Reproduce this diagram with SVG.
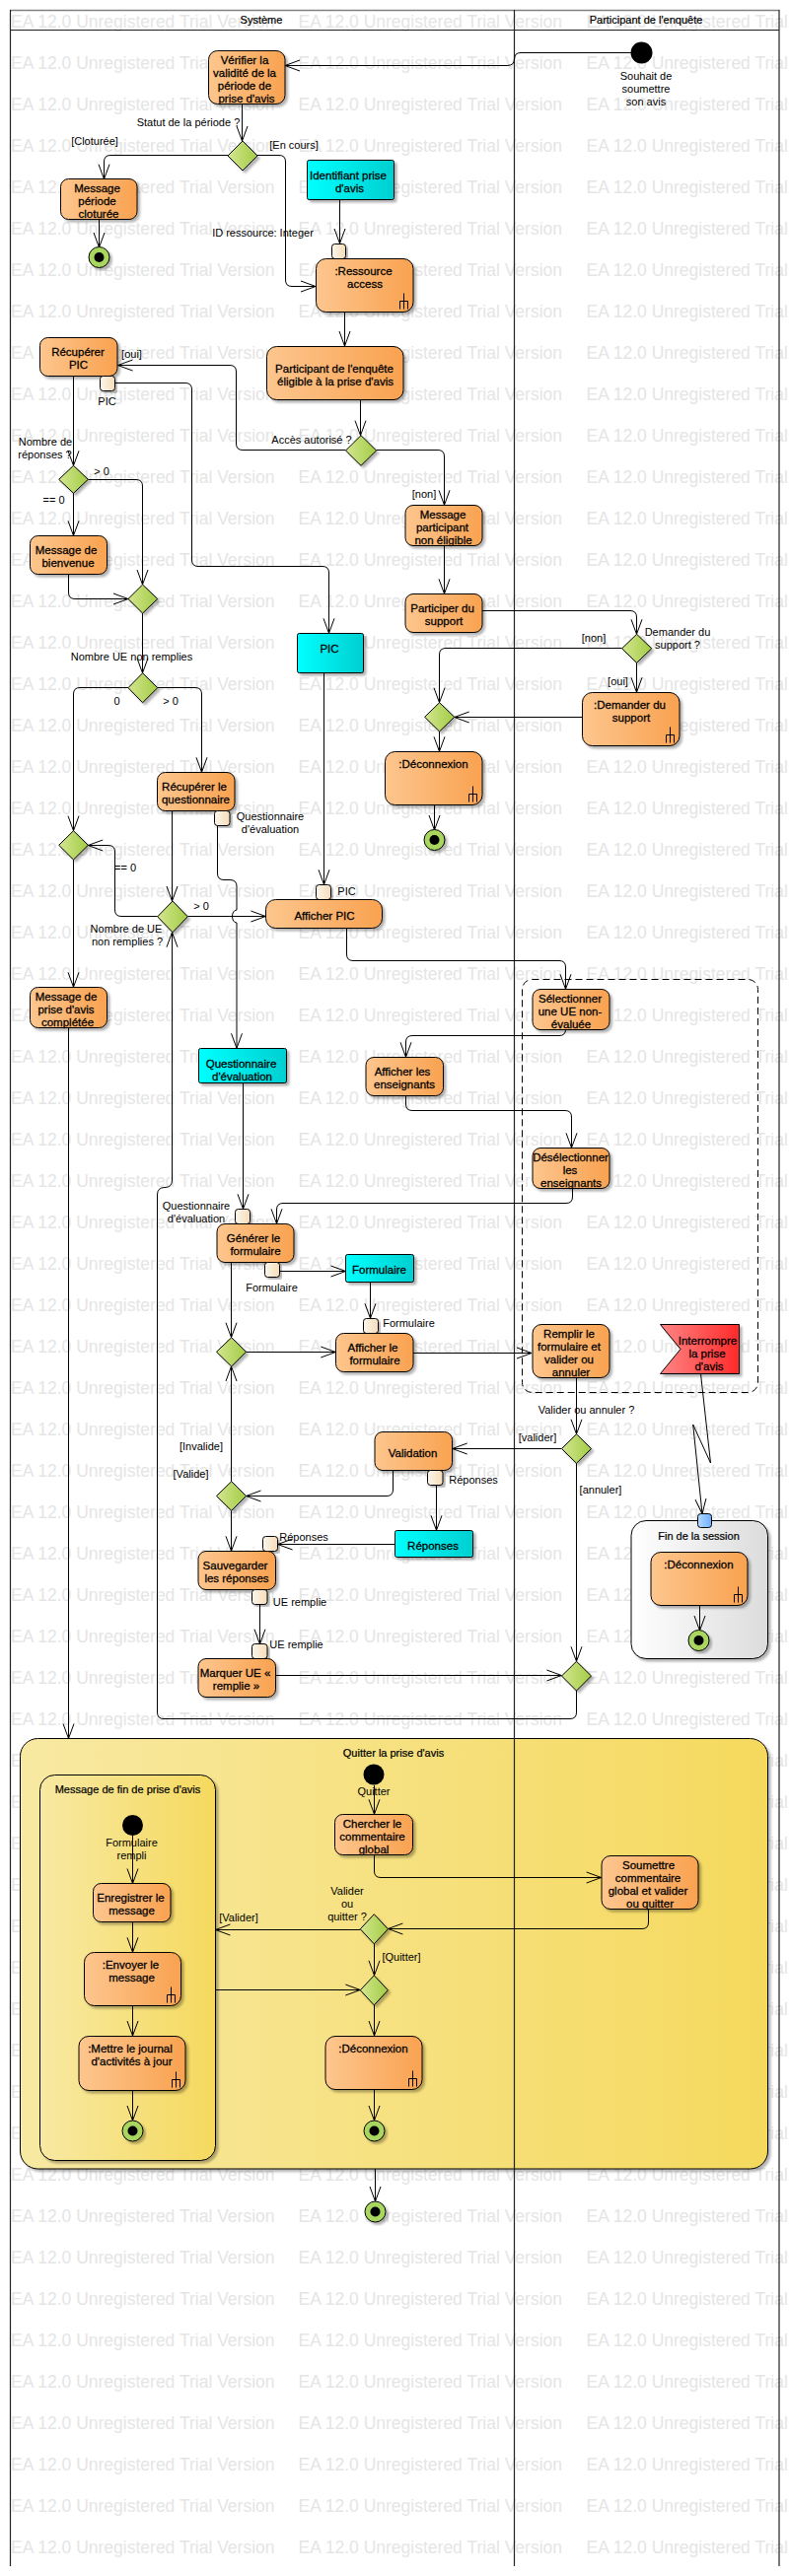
<svg xmlns="http://www.w3.org/2000/svg" xmlns:xlink="http://www.w3.org/1999/xlink" width="800" height="2613" viewBox="0 0 800 2613">
<style>
text{font-family:"Liberation Sans",Arial,sans-serif;fill:#000}
.n{font-size:11.5px;stroke:#000;stroke-width:.28px;text-anchor:middle}
.l{font-size:11px;text-anchor:middle}
.h{font-size:11px;stroke:#000;stroke-width:.22px;text-anchor:middle}
.w{font-size:17.5px;fill:#e5e5e5}
.c{fill:none;stroke:#000;stroke-width:1}
.a{marker-end:url(#ah)}
.act{fill:url(#org);stroke:#000;stroke-width:1;filter:url(#sh)}
.obj{fill:url(#cya);stroke:#000;stroke-width:1;filter:url(#sh)}
.dec{fill:url(#grn);stroke:#000;stroke-width:1;filter:url(#sh)}
.pin{fill:url(#pin);stroke:#000;stroke-width:1;filter:url(#sh)}
.fin{fill:#a9d65f;stroke:#000;stroke-width:1;filter:url(#sh)}
.lane{fill:none;stroke:#222;stroke-width:1.2}
.rake{fill:none;stroke:#000;stroke-width:1}
</style>
<defs>
<linearGradient id="org"><stop offset="0" stop-color="#fdc68e"/><stop offset="1" stop-color="#f9a250"/></linearGradient>
<linearGradient id="cya"><stop offset="0" stop-color="#00ffff"/><stop offset="1" stop-color="#00cfd0"/></linearGradient>
<linearGradient id="grn"><stop offset="0" stop-color="#d3e68f"/><stop offset="1" stop-color="#a3cc45"/></linearGradient>
<linearGradient id="pin"><stop offset="0" stop-color="#fbf6ec"/><stop offset="1" stop-color="#f6dcb8"/></linearGradient>
<linearGradient id="red"><stop offset="0" stop-color="#ff8585"/><stop offset="1" stop-color="#ff2a2a"/></linearGradient>
<linearGradient id="blu"><stop offset="0" stop-color="#b5d8ff"/><stop offset="1" stop-color="#6cb0ff"/></linearGradient>
<linearGradient id="gry"><stop offset="0" stop-color="#ffffff"/><stop offset="1" stop-color="#dcdcdc"/></linearGradient>
<linearGradient id="yel"><stop offset="0" stop-color="#f8e9a2"/><stop offset="1" stop-color="#f5d95e"/></linearGradient>
<filter id="sh" x="-15%" y="-15%" width="130%" height="130%"><feDropShadow dx="2.5" dy="2.5" stdDeviation="1" flood-color="#000" flood-opacity="0.3"/></filter>
<marker id="ah" markerUnits="userSpaceOnUse" markerWidth="18" markerHeight="14" refX="15" refY="7" orient="auto" overflow="visible"><path d="M0,1.5 L15,7 L0,12.5" fill="none" stroke="#000"/></marker>
<path id="rake" class="rake" d="M0,0V16M-4,16V8H4V16"/>
<g id="wmrow"><text class="w" x="11" y="28">EA 12.0 Unregistered Trial Version</text><text class="w" x="302.5" y="28">EA 12.0 Unregistered Trial Version</text><text class="w" x="594.5" y="28">EA 12.0 Unregistered Trial Version</text></g>
</defs>
<rect width="800" height="2613" fill="#fff"/>
<g id="watermark">
<use href="#wmrow" y="0"/><use href="#wmrow" y="42"/><use href="#wmrow" y="84"/><use href="#wmrow" y="126"/><use href="#wmrow" y="168"/><use href="#wmrow" y="210"/><use href="#wmrow" y="252"/><use href="#wmrow" y="294"/><use href="#wmrow" y="336"/><use href="#wmrow" y="378"/>
<use href="#wmrow" y="420"/><use href="#wmrow" y="462"/><use href="#wmrow" y="504"/><use href="#wmrow" y="546"/><use href="#wmrow" y="588"/><use href="#wmrow" y="630"/><use href="#wmrow" y="672"/><use href="#wmrow" y="714"/><use href="#wmrow" y="756"/><use href="#wmrow" y="798"/>
<use href="#wmrow" y="840"/><use href="#wmrow" y="882"/><use href="#wmrow" y="924"/><use href="#wmrow" y="966"/><use href="#wmrow" y="1008"/><use href="#wmrow" y="1050"/><use href="#wmrow" y="1092"/><use href="#wmrow" y="1134"/><use href="#wmrow" y="1176"/><use href="#wmrow" y="1218"/>
<use href="#wmrow" y="1260"/><use href="#wmrow" y="1302"/><use href="#wmrow" y="1344"/><use href="#wmrow" y="1386"/><use href="#wmrow" y="1428"/><use href="#wmrow" y="1470"/><use href="#wmrow" y="1512"/><use href="#wmrow" y="1554"/><use href="#wmrow" y="1596"/><use href="#wmrow" y="1638"/>
<use href="#wmrow" y="1680"/><use href="#wmrow" y="1722"/><use href="#wmrow" y="1764"/><use href="#wmrow" y="1806"/><use href="#wmrow" y="1848"/><use href="#wmrow" y="1890"/><use href="#wmrow" y="1932"/><use href="#wmrow" y="1974"/><use href="#wmrow" y="2016"/><use href="#wmrow" y="2058"/>
<use href="#wmrow" y="2100"/><use href="#wmrow" y="2142"/><use href="#wmrow" y="2184"/><use href="#wmrow" y="2226"/><use href="#wmrow" y="2268"/><use href="#wmrow" y="2310"/><use href="#wmrow" y="2352"/><use href="#wmrow" y="2394"/><use href="#wmrow" y="2436"/><use href="#wmrow" y="2478"/>
<use href="#wmrow" y="2520"/><use href="#wmrow" y="2562"/>
</g>

<g id="region-quitter"><rect x="20.5" y="1763.5" width="758" height="436.5" rx="18" fill="url(#yel)" stroke="#000" filter="url(#sh)"/><text class="h" x="399" y="1781.5">Quitter la prise d'avis</text></g>
<g id="region-message"><rect x="40.5" y="1800.5" width="178" height="391" rx="15" fill="url(#yel)" stroke="#000" filter="url(#sh)"/><text class="h" x="129.5" y="1818.5">Message de fin de prise d'avis</text></g>
<g id="region-fin"><rect x="640" y="1542.5" width="138.5" height="140" rx="15" fill="url(#gry)" stroke="#000" filter="url(#sh)"/><text class="h" x="708.5" y="1561.5">Fin de la session</text></g>
<g id="region-interruptible"><rect x="529.5" y="993.5" width="239" height="419" rx="10" fill="none" stroke="#000" stroke-dasharray="7,4"/></g>

<g id="lanes">
<path d="M10,10.5H790" fill="none" stroke="#808080" stroke-width="1.6"/>
<path class="lane" d="M10.5,10V2603M521.5,10V2603M790,10V2603M10,30.5H790"/>
<text class="h" x="265" y="23.5">Système</text>
<text class="h" x="655" y="23.5">Participant de l'enquête</text>
</g>

<g id="connectors">
<path class="c a" d="M640,53.5H528Q521.5,53.5 521.5,60Q521.5,66.5 514,66.5H289"/>
<path class="c a" d="M245.5,105V143"/>
<path class="c a" d="M231,157.5H112Q105.5,157.5 105.5,164V181.7"/>
<path class="c a" d="M261,157.5H283Q289.5,157.5 289.5,164V284Q289.5,290.5 296,290.5H320"/>
<path class="c a" d="M100.5,222.7V251"/>
<path class="c a" d="M344.5,202.7V247"/>
<path class="c a" d="M349.5,316.3V351"/>
<path class="c a" d="M365.5,405.3V441.7"/>
<path class="c a" d="M350.5,456.5H246Q239.5,456.5 239.5,450V377Q239.5,370.5 233,370.5H119.5"/>
<path class="c a" d="M116.3,388.5H188Q194.5,388.5 194.5,395V568Q194.5,574.5 201,574.5H327Q333.5,574.5 333.5,581V642.3"/>
<path class="c a" d="M74.5,381.3V472.3"/>
<path class="c a" d="M89.3,486.5H138Q144.5,486.5 144.5,493V593"/>
<path class="c a" d="M74.5,500.3V543.3"/>
<path class="c a" d="M69.5,582.7V601Q69.5,607.5 76,607.5H130"/>
<path class="c a" d="M144.5,622V682.7"/>
<path class="c a" d="M130,697.5H81Q74.5,697.5 74.5,704V842.7"/>
<path class="c a" d="M159.7,697.5H198Q204.5,697.5 204.5,704V783.3"/>
<path class="c a" d="M174.5,822.7V914"/>
<path class="c a" d="M220.5,837.7V886Q220.5,892.5 227,892.5H233Q240,892.5 240,899V923C234,923 234,936 240,936V1063.3"/>
<path class="c a" d="M159.7,929.5H123Q116.5,929.5 116.5,923V864Q116.5,857.5 110,857.5H89.3"/>
<path class="c a" d="M74.5,872V1001.3"/>
<path class="c a" d="M190.3,929.5H269.4"/>
<path class="c a" d="M328.5,682.7V897.3"/>
<path class="c a" d="M351.5,941.7V968Q351.5,974.5 358,974.5H567Q573.5,974.5 573.5,981V1003.3"/>
<path class="c a" d="M573.5,1044.3Q573.5,1050.5 567,1050.5H418Q411.5,1050.5 411.5,1057V1072.3"/>
<path class="c a" d="M411.5,1111.3V1120Q411.5,1126.5 418,1126.5H573Q579.5,1126.5 579.5,1133V1164.3"/>
<path class="c a" d="M580.5,1205.3V1214Q580.5,1220.5 574,1220.5H287Q280.5,1220.5 280.5,1227V1241.3"/>
<path class="c a" d="M246.5,1098.7V1226.3"/>
<path class="c a" d="M283.7,1289.5H350.5"/>
<path class="c a" d="M375.5,1300.7V1337.3"/>
<path class="c a" d="M234.5,1280.7V1356.7"/>
<path class="c a" d="M249.5,1371.5H340.3"/>
<path class="c a" d="M419,1372.5H539"/>
<path class="c a" d="M584.5,1397.3V1454.7"/>
<path class="c a" d="M569.4,1469.5H458.7"/>
<path class="c a" d="M398.5,1491.7V1511Q398.5,1517.5 392,1517.5H249.5"/>
<path class="c a" d="M234.5,1502.7V1386"/>
<path class="c a" d="M234.5,1532.3V1573.3"/>
<path class="c a" d="M442.5,1506.7V1552.3"/>
<path class="c a" d="M400.5,1566.5H281.6"/>
<path class="c a" d="M263.5,1627.7V1667.7"/>
<path class="c a" d="M279.6,1699.5H569.4"/>
<path class="c a" d="M584.5,1484.3V1685.3"/>
<path class="c a" d="M584.5,1715V1737Q584.5,1743.5 578,1743.5H166Q159.5,1743.5 159.5,1737V1212Q159.5,1204.5 167,1204.5Q174.5,1204.5 174.5,1197V945.7"/>
<path class="c a" d="M710.5,1393.5L720.5,1484L702.7,1445L712,1535.5"/>
<path class="c a" d="M709.5,1628.3V1654"/>
<path class="c a" d="M69.5,1042.3V1763.5"/>
<path class="c a" d="M381.6,456.5H444Q450.5,456.5 450.5,463V512.3"/>
<path class="c a" d="M450.5,553.7V602.3"/>
<path class="c a" d="M489,619.5H639Q645.5,619.5 645.5,626V643.3"/>
<path class="c a" d="M630.6,657.5H452Q445.5,657.5 445.5,664V712.7"/>
<path class="c a" d="M645.5,672.3V702.3"/>
<path class="c a" d="M590.3,727.5H460.7"/>
<path class="c a" d="M445.5,742V762.3"/>
<path class="c a" d="M440.5,816.3V842"/>
<path class="c a" d="M379.5,1811V1840.3"/>
<path class="c a" d="M379.5,1881.7V1898Q379.5,1904.5 386,1904.5H609.7"/>
<path class="c a" d="M657.5,1936.4V1950Q657.5,1956.5 651,1956.5H393.4"/>
<path class="c a" d="M365.3,1957.5H218.4"/>
<path class="c a" d="M379.5,1971.8V2003.8"/>
<path class="c a" d="M218.4,2018.5H365.3"/>
<path class="c a" d="M379.5,2033.9V2065"/>
<path class="c a" d="M379.5,2119.5V2151"/>
<path class="c a" d="M380.5,2200V2233"/>
<path class="c a" d="M134.5,1862V1910.5"/>
<path class="c a" d="M134.5,1949.7V1980.3"/>
<path class="c a" d="M134.5,2034.3V2065"/>
<path class="c a" d="M134.5,2120.2V2151"/>
</g>

<g id="init-1"><circle cx="650.5" cy="53.5" r="11"/><text class="l" x="655" y="80.5"><tspan x="655" y="80.5">Souhait de</tspan><tspan x="655" y="93.5">soumettre</tspan><tspan x="655" y="106.5">son avis</tspan></text></g>
<g id="verifier"><rect class="act" x="211.5" y="51.5" width="77.5" height="54" rx="9"/><text class="n"><tspan x="248" y="64.5">Vérifier la</tspan><tspan x="248" y="77.5">validité de la</tspan><tspan x="248" y="90.5">période de</tspan><tspan x="250" y="103.5">prise d'avis</tspan></text></g>
<g id="d-statut"><path class="dec" d="M246,143L261,158L246,173L231,158Z"/><text class="l" x="191" y="127.5">Statut de la période ?</text><text class="l" x="96" y="146.5">[Cloturée]</text><text class="l" x="298" y="150.5">[En cours]</text></g>
<g id="msg-cloture"><rect class="act" x="61.5" y="181.5" width="77.5" height="41" rx="8"/><text class="n"><tspan x="98.5" y="194.5">Message</tspan><tspan x="98.5" y="207.5">période</tspan><tspan x="100" y="220.5">cloturée</tspan></text></g>
<g id="final-1"><circle class="fin" cx="100.5" cy="261" r="10.5"/><circle cx="100.5" cy="261" r="5"/></g>
<g id="identifiant"><rect class="obj" x="311.5" y="162.5" width="88" height="40" rx="2"/><text class="n"><tspan x="353" y="181.5">Identifiant prise</tspan><tspan x="354.5" y="194.5">d'avis</tspan></text></g>
<g id="pin-id"><rect class="pin" x="336.5" y="247.5" width="14" height="15" rx="3"/><text class="l" x="266.5" y="239.5">ID ressource: Integer</text></g>
<g id="ressource"><rect class="act" x="320.5" y="262.5" width="98.5" height="54" rx="10"/><text class="n"><tspan x="368.5" y="278.5">:Ressource</tspan><tspan x="370" y="291.5">access</tspan></text><use href="#rake" x="409.5" y="297.5"/></g>
<g id="participant"><rect class="act" x="270.5" y="351.5" width="138.5" height="54" rx="10"/><text class="n"><tspan x="339" y="377.5">Participant de l'enquête</tspan><tspan x="340" y="390.5">éligible à la prise d'avis</tspan></text></g>
<g id="d-acces"><path class="dec" d="M366,441.7L381.6,457L366,472.3L350.5,457Z"/><text class="l" x="316" y="449.5">Accès autorisé ?</text></g>
<g id="recuperer-pic"><rect class="act" x="40.5" y="342.5" width="78.5" height="39" rx="8"/><text class="n"><tspan x="79" y="360.5">Récupérer</tspan><tspan x="79.5" y="373.5">PIC</tspan></text><text class="l" x="133.5" y="363">[oui]</text></g>
<g id="pin-pic-out"><rect class="pin" x="101.5" y="381.5" width="15" height="15" rx="3"/><text class="l" x="108.5" y="410.5">PIC</text></g>
<g id="d-reponses"><path class="dec" d="M74.5,472.3L89.3,486.3L74.5,500.3L59.7,486.3Z"/><text class="l"><tspan x="46" y="451.5">Nombre de</tspan><tspan x="45.5" y="464.5">réponses ?</tspan></text><text class="l" x="103" y="481.5">&gt; 0</text><text class="l" x="54.5" y="510.5">== 0</text></g>
<g id="bienvenue"><rect class="act" x="30.5" y="543.5" width="78" height="39" rx="8"/><text class="n"><tspan x="67" y="561.5">Message de</tspan><tspan x="69" y="574.5">bienvenue</tspan></text></g>
<g id="d-merge"><path class="dec" d="M144.6,593L159.7,607.5L144.6,622L130,607.5Z"/></g>
<g id="d-ue"><path class="dec" d="M144.6,682.7L159.7,697.7L144.6,712.7L130,697.7Z"/><text class="l" x="133.5" y="669.5">Nombre UE non remplies</text><text class="l" x="118.5" y="714.5">0</text><text class="l" x="173" y="714.5">&gt; 0</text></g>
<g id="recuperer-q"><rect class="act" x="159.5" y="783.5" width="78.5" height="39" rx="8"/><text class="n"><tspan x="197" y="801.5">Récupérer le</tspan><tspan x="198.5" y="814.5">questionnaire</tspan></text></g>
<g id="pin-q-out"><rect class="pin" x="217.5" y="822.5" width="15.5" height="15" rx="3"/><text class="l"><tspan x="274" y="831.5">Questionnaire</tspan><tspan x="274" y="844.5">d'évaluation</tspan></text></g>
<g id="d-completed"><path class="dec" d="M74.5,842.7L89.3,857.3L74.5,872L59.7,857.3Z"/><text class="l" x="127" y="883.5">== 0</text></g>
<g id="d-nombre-ue"><path class="dec" d="M175,914L190.3,929.8L175,945.7L159.7,929.8Z"/><text class="l" x="204" y="922.5">&gt; 0</text><text class="l"><tspan x="128" y="945.5">Nombre de UE</tspan><tspan x="129" y="958.5">non remplies ?</tspan></text></g>
<g id="pic"><rect class="obj" x="301.5" y="642.5" width="67" height="40" rx="2"/><text class="n" x="334" y="661.5">PIC</text></g>
<g id="pin-pic-in"><rect class="pin" x="320.5" y="897.5" width="15" height="15" rx="3"/><text class="l" x="351.5" y="907.5">PIC</text></g>
<g id="afficher-pic"><rect class="act" x="269.5" y="912.5" width="118" height="29" rx="10"/><text class="n" x="329" y="932.5">Afficher PIC</text></g>
<g id="msg-complete"><rect class="act" x="30.5" y="1001.5" width="78" height="41" rx="8"/><text class="n"><tspan x="67" y="1014.5">Message de</tspan><tspan x="67" y="1027.5">prise d'avis</tspan><tspan x="68.5" y="1040.5">complétée</tspan></text></g>
<g id="selectionner"><rect class="act" x="540" y="1003.5" width="78" height="41" rx="8"/><text class="n"><tspan x="578" y="1016.5">Sélectionner</tspan><tspan x="578" y="1029.5">une UE non-</tspan><tspan x="579" y="1042.5">évaluée</tspan></text></g>
<g id="afficher-ens"><rect class="act" x="371" y="1072.5" width="78.5" height="39" rx="8"/><text class="n"><tspan x="408" y="1090.5">Afficher les</tspan><tspan x="410" y="1103.5">enseignants</tspan></text></g>
<g id="deselectionner"><rect class="act" x="540" y="1164.5" width="78" height="41" rx="8"/><text class="n"><tspan x="578.5" y="1177.5">Désélectionner</tspan><tspan x="578" y="1190.5">les</tspan><tspan x="579" y="1203.5">enseignants</tspan></text></g>
<g id="questionnaire"><rect class="obj" x="201.5" y="1063.5" width="89" height="35" rx="2"/><text class="n"><tspan x="244.5" y="1082.5">Questionnaire</tspan><tspan x="245.5" y="1095.5">d'évaluation</tspan></text></g>
<g id="pin-q-in"><rect class="pin" x="238.5" y="1226.5" width="15" height="15" rx="3"/><text class="l"><tspan x="199" y="1226.5">Questionnaire</tspan><tspan x="199" y="1239.5">d'évaluation</tspan></text></g>
<g id="generer"><rect class="act" x="220" y="1241.5" width="78" height="39" rx="8"/><text class="n"><tspan x="257" y="1259.5">Générer le</tspan><tspan x="259" y="1272.5">formulaire</tspan></text></g>
<g id="pin-f-out"><rect class="pin" x="268.5" y="1280.5" width="15" height="15" rx="3"/><text class="l" x="275.5" y="1309.5">Formulaire</text></g>
<g id="formulaire"><rect class="obj" x="350.5" y="1272.5" width="69" height="28" rx="2"/><text class="n" x="384.5" y="1291.5">Formulaire</text></g>
<g id="pin-f-in"><rect class="pin" x="368.5" y="1337.5" width="15" height="15" rx="3"/><text class="l" x="414.5" y="1345.5">Formulaire</text></g>
<g id="afficher-form"><rect class="act" x="340.5" y="1352.5" width="78.5" height="39" rx="8"/><text class="n"><tspan x="378" y="1370.5">Afficher le</tspan><tspan x="380" y="1383.5">formulaire</tspan></text></g>
<g id="d-afficher"><path class="dec" d="M234.7,1356.7L249.5,1371.3L234.7,1386L219.5,1371.3Z"/></g>
<g id="d-valide"><path class="dec" d="M234.7,1502.7L249.5,1517.5L234.7,1532.3L219.5,1517.5Z"/><text class="l" x="204" y="1470.5">[Invalide]</text><text class="l" x="193.5" y="1498.5">[Valide]</text></g>
<g id="remplir"><rect class="act" x="540" y="1343.5" width="78" height="54" rx="9"/><text class="n"><tspan x="577" y="1356.5">Remplir le</tspan><tspan x="577" y="1369.5">formulaire et</tspan><tspan x="577" y="1382.5">valider ou</tspan><tspan x="579" y="1395.5">annuler</tspan></text></g>
<g id="interrompre"><path d="M669.5,1343.5H749.5V1393.5H669.5L690,1368.5Z" fill="url(#red)" stroke="#000" filter="url(#sh)"/><text class="n"><tspan x="717.5" y="1363.5">Interrompre</tspan><tspan x="717" y="1376.5">la prise</tspan><tspan x="719" y="1389.5">d'avis</tspan></text></g>
<g id="d-valider"><path class="dec" d="M584.5,1454.7L599.5,1469.5L584.5,1484.3L569.5,1469.5Z"/><text class="l" x="594.5" y="1433.5">Valider ou annuler ?</text><text class="l" x="545" y="1461.5">[valider]</text><text class="l" x="609" y="1514.5">[annuler]</text></g>
<g id="validation"><rect class="act" x="380" y="1452.5" width="78.5" height="39" rx="8"/><text class="n" x="418.5" y="1477.5">Validation</text></g>
<g id="pin-r-out"><rect class="pin" x="433.5" y="1491.5" width="15.5" height="15" rx="3"/><text class="l" x="480" y="1504.5">Réponses</text></g>
<g id="reponses"><rect class="obj" x="400.5" y="1552.5" width="79" height="27" rx="2"/><text class="n" x="439" y="1571.5">Réponses</text></g>
<g id="pin-r-in"><rect class="pin" x="266.5" y="1558.5" width="15" height="15" rx="3"/><text class="l" x="308" y="1562.5">Réponses</text></g>
<g id="sauvegarder"><rect class="act" x="201" y="1573.5" width="78.5" height="39" rx="8"/><text class="n"><tspan x="238.5" y="1591.5">Sauvegarder</tspan><tspan x="240" y="1604.5">les réponses</tspan></text></g>
<g id="pin-ue-out"><rect class="pin" x="255.5" y="1612.5" width="15.5" height="15" rx="3"/><text class="l" x="304" y="1628.5">UE remplie</text></g>
<g id="pin-ue-in"><rect class="pin" x="255.5" y="1667.5" width="15.5" height="15" rx="3"/><text class="l" x="300.5" y="1671.5">UE remplie</text></g>
<g id="marquer"><rect class="act" x="201" y="1682.5" width="78.5" height="39" rx="8"/><text class="n"><tspan x="238.5" y="1700.5">Marquer UE «</tspan><tspan x="239.5" y="1713.5">remplie »</tspan></text></g>
<g id="d-annuler"><path class="dec" d="M584.5,1685.3L599.5,1700L584.5,1715L569.5,1700Z"/></g>
<g id="msg-participant"><rect class="act" x="411" y="512.5" width="78" height="41" rx="8"/><text class="n"><tspan x="449" y="525.5">Message</tspan><tspan x="448.5" y="538.5">participant</tspan><tspan x="449.5" y="551.5">non éligible</tspan></text><text class="l" x="430" y="505">[non]</text></g>
<g id="participer"><rect class="act" x="411" y="602.5" width="78" height="39" rx="8"/><text class="n"><tspan x="448.5" y="620.5">Participer du</tspan><tspan x="450" y="633.5">support</tspan></text></g>
<g id="d-support"><path class="dec" d="M645.6,643.3L660.7,657.8L645.6,672.3L630.6,657.8Z"/><text class="l"><tspan x="687" y="644.5">Demander du</tspan><tspan x="687" y="658">support ?</tspan></text><text class="l" x="602" y="651">[non]</text><text class="l" x="626.5" y="695">[oui]</text></g>
<g id="demander"><rect class="act" x="590.5" y="702.5" width="98.5" height="54" rx="10"/><text class="n"><tspan x="638.5" y="718.5">:Demander du</tspan><tspan x="640" y="731.5">support</tspan></text><use href="#rake" x="679.5" y="737.5"/></g>
<g id="d-deconnexion"><path class="dec" d="M445.6,712.7L460.7,727.3L445.6,742L430.6,727.3Z"/></g>
<g id="deconnexion-1"><rect class="act" x="390.5" y="762.5" width="98.5" height="54" rx="10"/><text class="n" x="439.5" y="778.5">:Déconnexion</text><use href="#rake" x="479.5" y="797.5"/></g>
<g id="final-2"><circle class="fin" cx="440.5" cy="852" r="10.5"/><circle cx="440.5" cy="852" r="5"/></g>
<g id="deconnexion-2"><rect class="act" x="660" y="1574.5" width="98" height="54" rx="10"/><text class="n" x="708.5" y="1590.5">:Déconnexion</text><use href="#rake" x="748.5" y="1609.5"/></g>
<g id="pin-fin"><rect x="707.5" y="1535.5" width="14" height="14" rx="3" fill="url(#blu)" stroke="#000"/></g>
<g id="final-3"><circle class="fin" cx="708.5" cy="1664" r="10.5"/><circle cx="708.5" cy="1664" r="5"/></g>

<g id="init-2"><circle cx="379" cy="1800" r="10.5"/><text class="l" x="379" y="1820.5">Quitter</text></g>
<g id="chercher"><rect class="act" x="339.5" y="1840.5" width="79" height="41" rx="8"/><text class="n"><tspan x="377.5" y="1853.5">Chercher le</tspan><tspan x="377.5" y="1866.5">commentaire</tspan><tspan x="379" y="1879.5">global</tspan></text></g>
<g id="soumettre"><rect class="act" x="610" y="1882.5" width="98" height="54" rx="9"/><text class="n"><tspan x="657.5" y="1895.5">Soumettre</tspan><tspan x="657" y="1908.5">commentaire</tspan><tspan x="657" y="1921.5">global et valider</tspan><tspan x="659" y="1934.5">ou quitter</tspan></text></g>
<g id="d-quitter"><path class="dec" d="M379.3,1941.7L393.4,1956.8L379.3,1971.8L365.3,1956.8Z"/><text class="l"><tspan x="352" y="1921.5">Valider</tspan><tspan x="352" y="1934.5">ou</tspan><tspan x="352" y="1947.5">quitter ?</tspan></text><text class="l" x="242" y="1948.5">[Valider]</text><text class="l" x="407" y="1988.5">[Quitter]</text></g>
<g id="d-quitter-2"><path class="dec" d="M379.3,2003.8L393.4,2018.8L379.3,2033.9L365.3,2018.8Z"/></g>
<g id="deconnexion-3"><rect class="act" x="330" y="2065.5" width="98" height="54" rx="10"/><text class="n" x="378.5" y="2081.5">:Déconnexion</text><use href="#rake" x="418.5" y="2100.5"/></g>
<g id="final-4"><circle class="fin" cx="379.5" cy="2161.5" r="10.5"/><circle cx="379.5" cy="2161.5" r="5"/></g>
<g id="final-5"><circle class="fin" cx="380.5" cy="2243.5" r="10.5"/><circle cx="380.5" cy="2243.5" r="5"/></g>
<g id="init-3"><circle cx="134.5" cy="1851.5" r="10.5"/><text class="l"><tspan x="133.5" y="1872.5">Formulaire</tspan><tspan x="133.5" y="1885.5">rempli</tspan></text></g>
<g id="enregistrer"><rect class="act" x="94.5" y="1910.5" width="78.5" height="39" rx="8"/><text class="n"><tspan x="132.5" y="1928.5">Enregistrer le</tspan><tspan x="133.5" y="1941.5">message</tspan></text></g>
<g id="envoyer"><rect class="act" x="85.5" y="1980.5" width="98" height="54" rx="10"/><text class="n"><tspan x="132.5" y="1996.5">:Envoyer le</tspan><tspan x="133.5" y="2009.5">message</tspan></text><use href="#rake" x="173.5" y="2015.5"/></g>
<g id="mettre"><rect class="act" x="80" y="2065.5" width="108" height="55" rx="10"/><text class="n"><tspan x="132" y="2081.5">:Mettre le journal</tspan><tspan x="133.5" y="2094.5">d'activités à jour</tspan></text><use href="#rake" x="178.5" y="2101.5"/></g>
<g id="final-6"><circle class="fin" cx="134.5" cy="2161.5" r="10.5"/><circle cx="134.5" cy="2161.5" r="5"/></g>
</svg>
